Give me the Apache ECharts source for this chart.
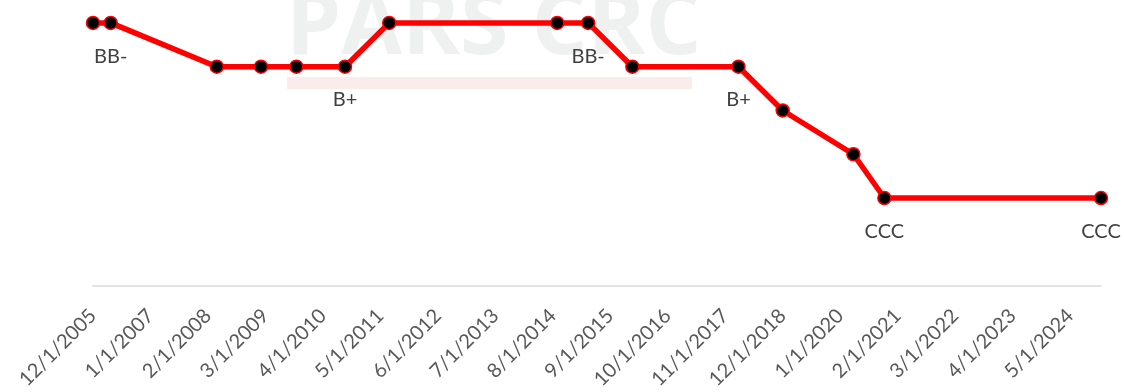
<!DOCTYPE html>
<html>
<head>
<meta charset="utf-8">
<script src="https://cdn.jsdelivr.net/npm/echarts@6/dist/echarts.min.js"></script>
<style>
  html, body { margin: 0; padding: 0; background: #fff; }
  #chart { width: 1124px; height: 392px; }
</style>
</head>
<body>
<div id="chart"></div>
<script>
// rating history, one point per rating action
const dates = ['2005-12', '2006-04', '2008-04', '2009-02', '2009-10', '2010-09', '2011-07',
  '2014-09', '2015-04', '2016-02', '2018-02', '2018-12', '2020-04', '2020-11', '2024-12']
const ratings = ['BB-', 'BB-', 'B+', 'B+', 'B+', 'B+', 'BB-',
  'BB-', 'BB-', 'B+', 'B+', 'B', 'B-', 'CCC', 'CCC']
// which points carry a text label
const pointLabels = ['', 'BB-', '', '', '', 'B+', '',
  '', 'BB-', '', 'B+', '', '', 'CCC', 'CCC']
// rating scale, low to high
const ratingScale = ['CCC', 'B-', 'B', 'B+', 'BB-']

const startYear = 2005, startMonth = 12
const tickStep = 13 // months between axis labels
const axisEnd = '2024-12'

function monthIndex(s) {
    const [y, m] = s.split('-').map(Number)
    return (y - startYear) * 12 + (m - startMonth)
}

function monthLabel(idx) {
    const total = startYear * 12 + (startMonth - 1) + Math.round(idx)
    const y = Math.floor(total / 12)
    const m = total % 12 + 1
    return m + '/1/' + y
}

const seriesData = dates.map((d, i) => ({
    value: [monthIndex(d), ratingScale.indexOf(ratings[i]) + 1],
    label: { show: pointLabels[i] !== '', formatter: pointLabels[i] }
}))

const chart = echarts.init(document.getElementById('chart'))

chart.setOption({
    animation: false,
    backgroundColor: '#fff',
    graphic: [
        {
            type: 'text', left: 286, top: -15, z: 0, silent: true,
            style: {
                text: 'PARS CRC', fill: '#eff1f0',
                font: 'bold 88px "Open Sans"'
            }
        },
        {
            type: 'rect', left: 287, top: 77, z: 0, silent: true,
            shape: { width: 405, height: 12 },
            style: { fill: '#fbecec' }
        }
    ],
    grid: { left: 93, right: 23, top: 1, bottom: 105, containLabel: false },
    xAxis: {
        type: 'value',
        min: 0,
        max: monthIndex(axisEnd),
        interval: tickStep,
        splitLine: { show: false },
        axisTick: { show: false },
        axisLine: { show: true, onZero: false, lineStyle: { color: '#d9d9d9', width: 1.5 } },
        axisLabel: {
            rotate: 45,
            margin: 27,
            showMaxLabel: false,
            color: '#595959',
            fontFamily: 'Lato',
            fontSize: 20,
            formatter: v => monthLabel(v)
        }
    },
    yAxis: {
        type: 'value',
        min: -1,
        max: 5.5,
        show: false
    },
    series: [{
        type: 'line',
        data: seriesData,
        symbol: 'circle',
        symbolSize: 13,
        z: 5,
        lineStyle: { color: '#ff0000', width: 5.5 },
        itemStyle: { color: '#000', borderColor: '#ff0000', borderWidth: 1.5 },
        label: {
            position: 'bottom',
            distance: 16,
            color: '#404040',
            fontFamily: 'Lato',
            fontSize: 20
        }
    }]
})
</script>
</body>
</html>
